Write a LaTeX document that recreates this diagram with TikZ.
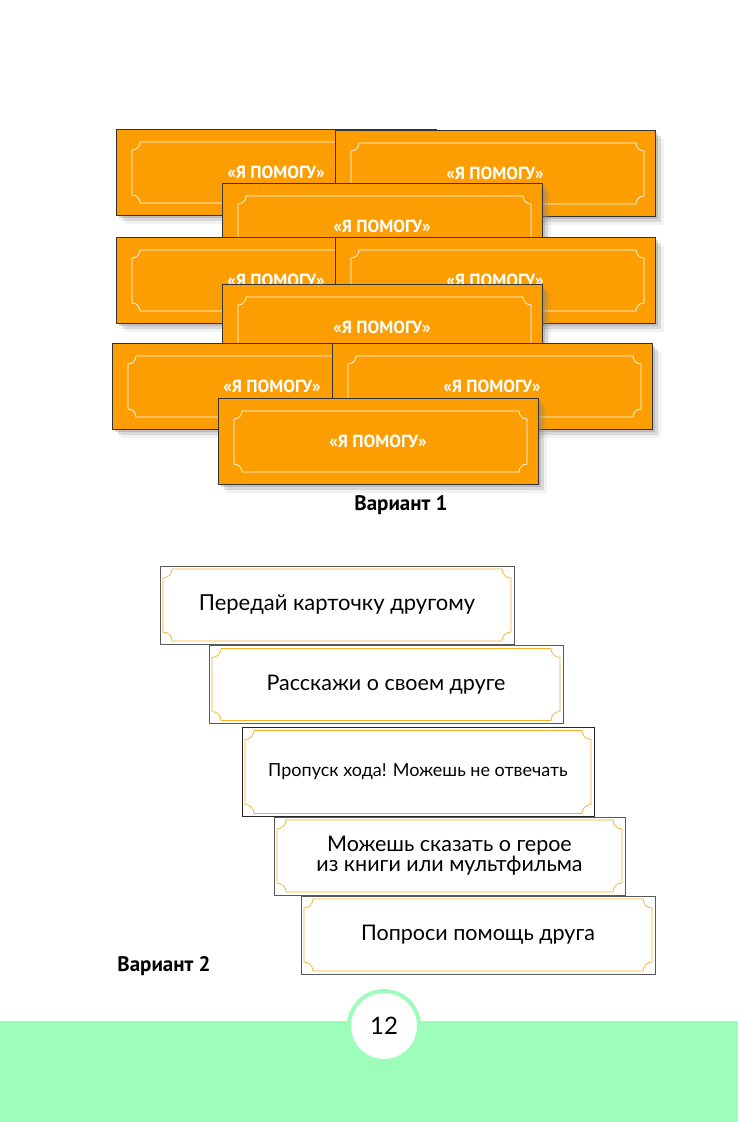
\documentclass[tikz,border=0pt]{standalone}
\usepackage{fontspec}
\setmainfont{PT Sans}
\newfontfamily\cardfont{Lato}
\usetikzlibrary{calc,shadows}
\definecolor{cardorange}{RGB}{252,158,2}
\definecolor{framegold}{RGB}{245,178,40}
\definecolor{mint}{RGB}{157,253,187}
% frame with cut corners: insets left, top, right, bottom, radius, colour
\newcommand{\ticketframe}[6]{%
  \draw[#6,line width=.7pt] let \p1=($(path picture bounding box.north west)+(#1pt,-#2pt)$),
    \p2=($(path picture bounding box.south east)+(-#3pt,#4pt)$) in
    (\x1+#5pt,\y1) -- (\x2-#5pt,\y1) arc[start angle=180,end angle=270,radius=#5pt]
    -- (\x2,\y2+#5pt) arc[start angle=90,end angle=180,radius=#5pt]
    -- (\x1+#5pt,\y2) arc[start angle=0,end angle=90,radius=#5pt]
    -- (\x1,\y1-#5pt) arc[start angle=270,end angle=360,radius=#5pt] -- cycle;}
\begin{document}
\begin{tikzpicture}[x=1pt,y=-1pt,
    softshadow/.style={drop shadow={shadow xshift=3pt,shadow yshift=-3pt,opacity=.3},
      drop shadow={shadow xshift=6pt,shadow yshift=-6pt,opacity=.22},
      drop shadow={shadow xshift=9pt,shadow yshift=-9pt,opacity=.1}},
    orangecard/.style={rectangle,fill=cardorange,draw=black!80,line width=.7pt,
      minimum width=320pt,minimum height=86pt,inner sep=0pt,text=white,
      font=\bfseries\fontsize{17.5}{19}\selectfont,softshadow,
      path picture={\ticketframe{16}{13}{11}{12}{8}{white}}},
    whitecard/.style={rectangle,fill=white,draw=black!65,line width=.8pt,
      minimum width=354pt,minimum height=78pt,inner sep=0pt,align=center,
      font=\cardfont\fontsize{21.5}{19}\selectfont,
      path picture={\ticketframe{3}{3}{3}{3}{9}{framegold}}},
    variant/.style={font=\bfseries\fontsize{21}{23}\selectfont}]
  \fill[white] (0,0) rectangle (738,1122);
  % Variant 1
  \node[orangecard] (helpA) at (276,172) {«Я ПОМОГУ»};
  \node[orangecard] (helpB) at (495,173) {«Я ПОМОГУ»};
  \node[orangecard] (helpC) at (382,226) {«Я ПОМОГУ»};
  \node[orangecard] (helpD) at (276,280) {«Я ПОМОГУ»};
  \node[orangecard] (helpE) at (495,280) {«Я ПОМОГУ»};
  \node[orangecard] (helpF) at (382,327) {«Я ПОМОГУ»};
  \node[orangecard] (helpG) at (272,386) {«Я ПОМОГУ»};
  \node[orangecard] (helpH) at (492,386) {«Я ПОМОГУ»};
  \node[orangecard] (helpI) at (378,441) {«Я ПОМОГУ»};
  \node[variant] (var1) at (401,505) {Вариант 1};
  % Variant 2
  \node[whitecard,font=\cardfont\fontsize{22}{19}\selectfont] (task1) at (337,605) {Передай карточку другому};
  \node[whitecard] (task2) at (386,684.5) {Расскажи о своем друге};
  \node[whitecard,draw=black!85,minimum width=352pt,minimum height=89pt,
    font=\cardfont\fontsize{18}{19}\selectfont] (task3) at (418,772) {Пропуск хода! Можешь не отвечать};
  \node[whitecard,minimum width=351pt] (task4) at (449.5,856) {Можешь сказать о герое\\из книги или мультфильма};
  \node[whitecard] (task5) at (478,935) {Попроси помощь друга};
  \node[variant] (var2) at (164,966) {Вариант 2};
  % page number
  \fill[mint] (0,1021) rectangle (738,1122);
  \node[circle,fill=white,draw=mint,line width=4pt,minimum size=70pt,
    font=\cardfont\fontsize{24}{24}\selectfont] (page) at (384,1026) {12};
\end{tikzpicture}
\end{document}
